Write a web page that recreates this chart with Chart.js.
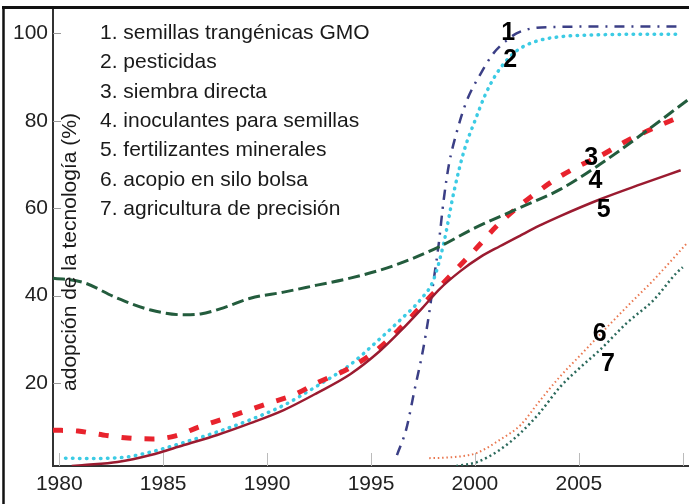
<!DOCTYPE html>
<html><head><meta charset="utf-8">
<script src="https://cdn.jsdelivr.net/npm/chart.js@4/dist/chart.umd.min.js"></script>
<style>html,body{margin:0;padding:0;background:#fff}#wrap{width:689px;height:504px}</style>
</head><body><div id="wrap"><canvas id="c" width="689" height="504"></canvas></div>
<script>
// ---- data (years, % adoption) ----
const s1Years  = [1996.25,1996.7,1997.1,1997.5,1997.8,1998.0,1998.25,1998.5,1998.75,1999.1,1999.6,2000.3,2000.9,2001.5,2002.0,2002.8,2004.0,2006.0,2008.0,2009.8];
const s1Values = [3.5,9.5,18.5,27.5,36,43,51.5,62,70,77,84.5,91,95.5,98.3,100,101.2,101.5,101.6,101.6,101.6];

const s2Years  = [1980.3,1981.5,1982.5,1983.3,1984.4,1986.0,1987.6,1989.2,1990.8,1992.4,1994.0,1995.4,1996.4,1997.4,1998.0,1998.5,1999.0,1999.5,2000.0,2000.5,2001.0,2001.5,2002.0,2002.5,2003.0,2004.0,2006.0,2008.0,2009.8];
const s2Values = [2.8,2.7,2.8,3.1,4.2,6.4,8.8,11.6,14.9,19.3,24.2,30,34.4,39.2,43.5,52,64,73.5,80,86,90.5,93.7,96,97.4,98.3,99.2,99.7,99.8,99.8];

const s3Years  = [1979.7,1980.9,1982.1,1983.3,1984.5,1985.6,1986.7,1987.9,1989.0,1990.1,1991.3,1992.4,1994.0,1995.4,1996.4,1997.4,1998.3,1999.2,2000.1,2001.0,2001.9,2003.0,2004.0,2005.1,2006.0,2007.3,2008.4,2009.5,2009.9];
const s3Values = [9.2,9.0,8.1,7.4,7.2,7.9,9.9,11.8,13.6,15.4,17.3,20,23.5,28,32.5,37.5,42,46.5,51,55.7,59.6,63.7,67,69.9,71.9,75.4,77.9,80.2,81];

const s4Years  = [1979.7,1981.1,1982.8,1984.4,1986.0,1986.8,1987.9,1989.2,1990.8,1992.4,1994.0,1996.0,1998.2,2000.0,2002.2,2004.1,2006.0,2008.0,2010.3];
const s4Values = [44,43.1,39.4,36.7,35.6,35.8,37.2,39.4,40.8,42.4,44,46.7,51,55.5,60.2,64.3,70,76.8,85];

const s5Years  = [1980.6,1981.1,1982.8,1984.4,1986.0,1987.6,1989.2,1990.8,1992.4,1994.0,1995.4,1996.4,1997.4,1998.3,1999.3,2000.25,2001.2,2002.2,2003.1,2004.1,2006.0,2008.0,2009.9];
const s5Values = [1,1.2,1.9,3.5,5.8,8.1,10.8,13.8,17.7,22,27.2,31.8,36.8,41.5,45.6,48.8,51.3,53.8,56,58.2,62,65.5,68.7];

const s6Years  = [1997.8,1998.5,1999.3,2000.1,2001.2,2002.2,2003.1,2004.1,2005.1,2006.0,2007.3,2008.6,2009.9,2010.2];
const s6Values = [2.8,2.9,3.2,4.0,7.0,10.4,15.8,21.5,26.5,31,37.4,43.6,50.4,52];

const s7Years  = [1999.1,2000.1,2001.2,2002.2,2003.1,2004.1,2005.1,2006.0,2007.3,2008.6,2009.7,2010.0];
const s7Values = [1.0,1.9,4.7,8.6,13.1,19.1,23.7,27.5,33.7,39,45.2,46.5];

const legendItems = [
  '1. semillas trangénicas GMO',
  '2. pesticidas',
  '3. siembra directa',
  '4. inoculantes para semillas',
  '5. fertilizantes minerales',
  '6. acopio en silo bolsa',
  '7. agricultura de precisión'
];
const seriesTags   = ['1','2','3','4','5','6','7'];
const tagYears     = [2001.6,2001.7,2005.6,2005.8,2006.2,2006.0,2006.4];
const tagValues    = [100.1,93.9,71.5,66.2,59.6,31.2,24.3];

const xTickValues = [1980,1985,1990,1995,2000,2005,2010];
const xTickLabels = ['1980','1985','1990','1995','2000','2005',''];
const yTickValues = [20,40,60,80,100];
const yTickLabels = ['20','40','60','80','100'];
const yAxisTitle  = 'adopción de la tecnología (%)';

const FONT = '"Liberation Sans", Arial, sans-serif';
const pts = (xs, ys) => xs.map((x, i) => ({x: x, y: ys[i]}));

const decor = {
  id: 'decor',
  afterDraw(chart) {
    const ctx = chart.ctx, a = chart.chartArea;
    const xs = chart.scales.x, ys = chart.scales.y;
    ctx.save();
    // outer frame
    ctx.strokeStyle = '#111';
    ctx.lineWidth = 3;
    ctx.beginPath(); ctx.moveTo(2, 7.5); ctx.lineTo(chart.width, 7.5); ctx.stroke();
    ctx.lineWidth = 2.5;
    ctx.beginPath(); ctx.moveTo(3.5, 7); ctx.lineTo(3.5, chart.height); ctx.stroke();
    // inward tick marks
    ctx.strokeStyle = '#999'; ctx.lineWidth = 1;
    yTickValues.forEach(v => {
      const y = Math.round(ys.getPixelForValue(v)) + 0.5;
      ctx.beginPath(); ctx.moveTo(a.left, y); ctx.lineTo(a.left + 8, y); ctx.stroke();
    });
    ctx.strokeStyle = '#bbb';
    xTickValues.forEach(v => {
      const x = Math.round(xs.getPixelForValue(v)) + 0.5;
      ctx.beginPath(); ctx.moveTo(x, a.bottom); ctx.lineTo(x, a.bottom - 13); ctx.stroke();
    });
    // legend text
    ctx.fillStyle = '#1a1a1a';
    ctx.font = '21px ' + FONT;
    ctx.textAlign = 'left'; ctx.textBaseline = 'middle';
    legendItems.forEach((t, i) => ctx.fillText(t, 100, 33 + i * 29.4));
    // y title
    ctx.save();
    ctx.translate(70, 252); ctx.rotate(-Math.PI / 2);
    ctx.textAlign = 'center'; ctx.textBaseline = 'middle';
    ctx.font = '21px ' + FONT;
    ctx.fillText(yAxisTitle, 0, 0);
    ctx.restore();
    // series tags
    ctx.fillStyle = '#000';
    ctx.font = 'bold 25px ' + FONT;
    ctx.textAlign = 'center'; ctx.textBaseline = 'middle';
    seriesTags.forEach((t, i) => ctx.fillText(t, xs.getPixelForValue(tagYears[i]), ys.getPixelForValue(tagValues[i])));
    ctx.restore();
  }
};

const base = {pointRadius: 0, fill: false, cubicInterpolationMode: 'monotone'};
new Chart(document.getElementById('c'), {
  type: 'line',
  data: {
    datasets: [
      Object.assign({label: legendItems[3], data: pts(s4Years, s4Values), borderColor: '#235c3d', borderWidth: 3, borderDash: [12, 5]}, base),
      Object.assign({label: legendItems[4], data: pts(s5Years, s5Values), borderColor: '#9b1b30', borderWidth: 2.5}, base),
      Object.assign({label: legendItems[2], data: pts(s3Years, s3Values), borderColor: '#e8232d', borderWidth: 5, borderDash: [10, 13]}, base),
      Object.assign({label: legendItems[1], data: pts(s2Years, s2Values), borderColor: '#3ccbe4', borderWidth: 3.5, borderDash: [0.5, 6.5], borderCapStyle: 'round'}, base),
      Object.assign({label: legendItems[0], data: pts(s1Years, s1Values), borderColor: '#3b3f86', borderWidth: 2.5, borderDash: [10, 7, 2, 7]}, base),
      Object.assign({label: legendItems[5], data: pts(s6Years, s6Values), borderColor: '#e9774f', borderWidth: 2, borderDash: [1.5, 2.8]}, base),
      Object.assign({label: legendItems[6], data: pts(s7Years, s7Values), borderColor: '#2c6a5c', borderWidth: 2.5, borderDash: [2, 3]}, base)
    ]
  },
  options: {
    responsive: false, animation: false, devicePixelRatio: 1,
    layout: {padding: {top: 9, right: 0, left: 0, bottom: 0}},
    plugins: {legend: {display: false}, tooltip: {enabled: false}},
    scales: {
      x: {
        type: 'linear', min: 1979.7, max: 2010.3,
        grid: {display: false, drawTicks: false},
        border: {display: true, color: '#333', width: 2},
        afterBuildTicks: s => { s.ticks = xTickValues.map(v => ({value: v})); },
        afterFit: s => { s.height = 38; s.paddingLeft = 0; s.paddingRight = 0; },
        ticks: {
          autoSkip: false, maxRotation: 0, padding: 6, color: '#222',
          font: {size: 21, family: FONT},
          callback: v => { const i = xTickValues.indexOf(v); return i >= 0 ? xTickLabels[i] : ''; }
        }
      },
      y: {
        min: 1, max: 105.6,
        grid: {display: false, drawTicks: false},
        border: {display: true, color: '#333', width: 2},
        afterBuildTicks: s => { s.ticks = yTickValues.map(v => ({value: v})); },
        afterFit: s => { s.width = 53; s.paddingTop = 0; s.paddingBottom = 0; },
        ticks: {
          padding: 5, color: '#222',
          font: {size: 21, family: FONT},
          callback: v => { const i = yTickValues.indexOf(v); return i >= 0 ? yTickLabels[i] : ''; }
        }
      }
    }
  },
  plugins: [decor]
});
</script></body></html>
